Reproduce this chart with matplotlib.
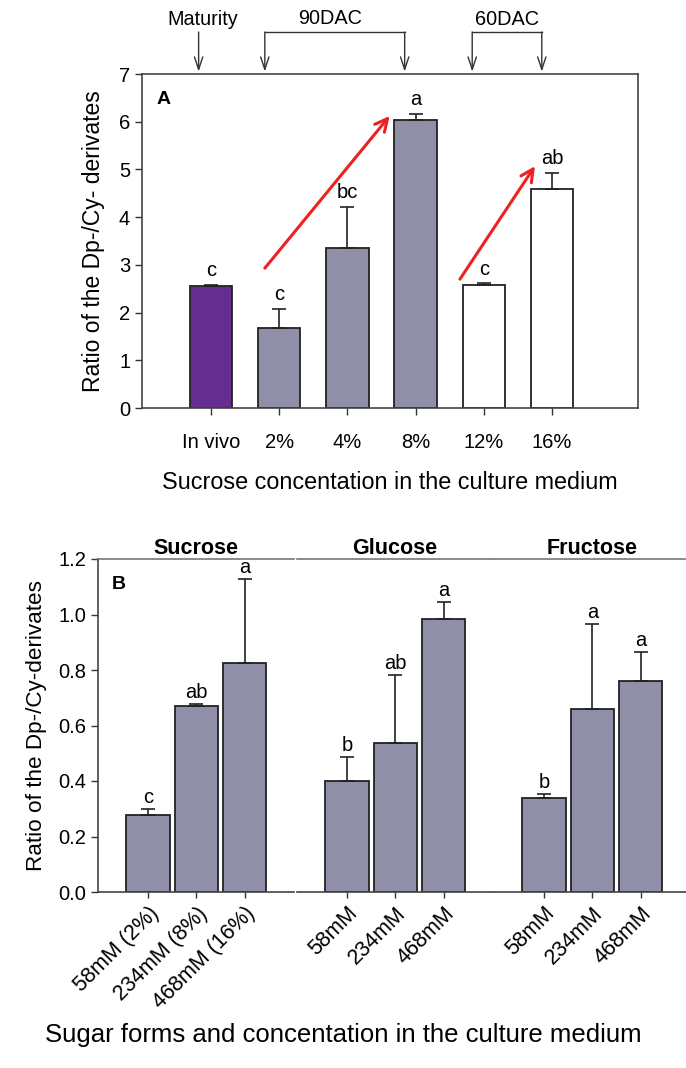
import numpy as np
import matplotlib.pyplot as plt

plt.rcParams['font.family'] = ['Liberation Sans', 'DejaVu Sans']

# --- Panel A data ---
a_labels = ['In vivo', '2%', '4%', '8%', '12%', '16%']
a_values = [2.55, 1.68, 3.35, 6.03, 2.58, 4.60]
a_errors = [0.03, 0.39, 0.86, 0.13, 0.03, 0.32]
a_letters = ['c', 'c', 'bc', 'a', 'c', 'ab']
a_colors = ['#652D90', '#8F8FA7', '#8F8FA7', '#8F8FA7', 'white', 'white']

# --- Panel B data ---
b_groups = ['Sucrose', 'Glucose', 'Fructose']
b_ticklabels = [['58mM (2%)', '234mM (8%)', '468mM (16%)'],
                ['58mM', '234mM', '468mM'],
                ['58mM', '234mM', '468mM']]
b_values = [[0.277, 0.670, 0.825],
            [0.400, 0.537, 0.984],
            [0.339, 0.660, 0.760]]
b_errors = [[0.023, 0.007, 0.303],
            [0.087, 0.245, 0.061],
            [0.014, 0.306, 0.105]]
b_letters = [['c', 'ab', 'a'],
             ['b', 'ab', 'a'],
             ['b', 'a', 'a']]

BAR_COLOR = '#8F8FA7'
W, H = 686, 1068
fig = plt.figure(figsize=(W / 100, H / 100), dpi=100)

# ---------------- Panel A ----------------
axA = fig.add_axes([142 / W, 1 - 408 / H, 496 / W, 334 / H])
x = np.arange(len(a_labels))
axA.bar(x, a_values, width=0.62, color=a_colors, edgecolor='#222222', linewidth=1.3, zorder=2)
axA.errorbar(x, a_values, yerr=[np.zeros(len(x)), a_errors], fmt='none',
             ecolor='#222222', elinewidth=1.2, capsize=5, capthick=1.2, zorder=3)
for xi, v, e, t in zip(x, a_values, a_errors, a_letters):
    axA.text(xi, v + e + 0.1, t, ha='center', va='bottom', fontsize=14.5)

axA.set_xlim(-1.01, 6.26)
axA.set_ylim(0, 7)
axA.set_xticks(x)
axA.set_xticklabels(a_labels, fontsize=14.5)
axA.set_yticks(range(0, 8))
axA.tick_params(axis='both', labelsize=14.5, direction='out', length=5, width=1, colors='#333333',
                labelcolor='black')
axA.tick_params(axis='x', pad=13)
for s in axA.spines.values():
    s.set_linewidth(1.2)
    s.set_color('#444444')
axA.set_ylabel('Ratio of the Dp-/Cy- derivates', fontsize=16.5, labelpad=10)
axA.set_xlabel('Sucrose concentation in the culture medium', fontsize=16.8, labelpad=14)
axA.text(0.03, 0.95, 'A', transform=axA.transAxes, fontsize=14, fontweight='bold',
         ha='left', va='top')

# red trend arrows
red_kw = dict(arrowstyle='->,head_length=0.9,head_width=0.45', color='#EE2020', lw=2.2,
              shrinkA=0, shrinkB=0)
axA.annotate('', xy=(2.62, 6.12), xytext=(0.79, 2.93), arrowprops=red_kw)
axA.annotate('', xy=(4.75, 5.07), xytext=(3.65, 2.70), arrowprops=red_kw)

# top harvest-time arrows
top_y, tip_y = 7.88, 7.05
blk_kw = dict(arrowstyle='->,head_length=0.9,head_width=0.3', color='#333333', lw=1,
              shrinkA=0, shrinkB=0)
arrow_x = [-0.18, 0.79, 2.84, 3.83, 4.85]
for xa in arrow_x:
    axA.annotate('', xy=(xa, tip_y), xytext=(xa, top_y), arrowprops=blk_kw,
                 annotation_clip=False)
for x0, x1 in [(0.79, 2.84), (3.83, 4.85)]:
    axA.plot([x0, x1], [top_y, top_y], color='#333333', lw=1, clip_on=False)
axA.text(-0.12, 7.95, 'Maturity', ha='center', va='bottom', fontsize=14.3)
axA.text(1.74, 7.97, '90DAC', ha='center', va='bottom', fontsize=14.3)
axA.text(4.34, 7.95, '60DAC', ha='center', va='bottom', fontsize=14.3)

# ---------------- Panel B ----------------
seg_left = [98, 297, 494]
seg_w = 196
axes_B = []
for gi in range(3):
    ax = fig.add_axes([seg_left[gi] / W, 1 - 892 / H, seg_w / W, 333 / H])
    axes_B.append(ax)
    xb = np.arange(3)
    ax.bar(xb, b_values[gi], width=0.9, color=BAR_COLOR, edgecolor='#222222',
           linewidth=1.3, zorder=2)
    ax.errorbar(xb, b_values[gi], yerr=[np.zeros(3), b_errors[gi]], fmt='none',
                ecolor='#222222', elinewidth=1.2, capsize=5, capthick=1.2, zorder=3)
    for xi, v, e, t in zip(xb, b_values[gi], b_errors[gi], b_letters[gi]):
        ax.text(xi, v + e + 0.006, t, ha='center', va='bottom', fontsize=14.5)
    ax.set_xlim(-1.04, 3.02)
    ax.set_ylim(0, 1.2)
    ax.set_xticks(xb)
    ax.set_xticklabels(b_ticklabels[gi], rotation=45, ha='right', rotation_mode='anchor',
                       fontsize=15.5)
    ax.tick_params(axis='x', direction='out', length=4, width=1, colors='#333333',
                   labelcolor='black', pad=4)
    ax.spines['right'].set_visible(False)
    ax.spines['top'].set_color('#777777')
    ax.spines['top'].set_linewidth(1.2)
    ax.spines['bottom'].set_color('#444444')
    ax.spines['bottom'].set_linewidth(1.2)
    ax.set_title(b_groups[gi], fontsize=15.5, fontweight='bold', pad=2)
    if gi == 0:
        ax.spines['left'].set_color('#444444')
        ax.spines['left'].set_linewidth(1.2)
        ax.set_yticks(np.arange(0, 1.21, 0.2))
        ax.set_yticklabels([f'{v:.1f}' for v in np.arange(0, 1.21, 0.2)])
        ax.tick_params(axis='y', direction='out', length=5, width=1, colors='#333333',
                       labelcolor='black', labelsize=14.5)
        ax.set_ylabel('Ratio of the Dp-/Cy-derivates', fontsize=16.2, labelpad=8)
        ax.text(0.07, 0.95, 'B', transform=ax.transAxes, fontsize=14, fontweight='bold',
                ha='left', va='top')
    else:
        ax.spines['left'].set_visible(False)
        ax.set_yticks([])

fig.text(343 / W, 1 - 1035 / H, 'Sugar forms and concentation in the culture medium',
         ha='center', va='center', fontsize=18.5)

fig.savefig('out.png', dpi=100)
